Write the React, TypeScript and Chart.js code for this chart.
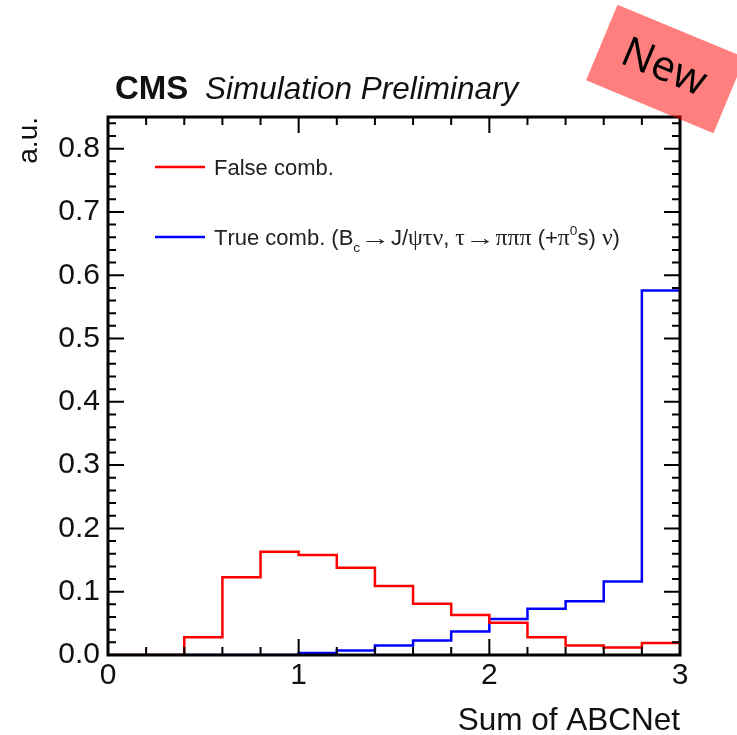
import { useEffect, useRef } from "react";
import { Chart, registerables } from "chart.js";

Chart.register(...registerables);

// Histogram binning (bin edges) and normalised contents per bin
const binEdges = [0, 0.2, 0.4, 0.6, 0.8, 1.0, 1.2, 1.4, 1.6, 1.8, 2.0, 2.2, 2.4, 2.6, 2.8, 3.0];
const falseComb = [0, 0, 0.028, 0.123, 0.163, 0.158, 0.138, 0.109, 0.081, 0.063, 0.051, 0.028, 0.015, 0.012, 0.019];
const trueComb = [0, 0, 0, 0, 0, 0.003, 0.007, 0.015, 0.023, 0.037, 0.057, 0.073, 0.085, 0.116, 0.576];

const xTickValues = [0, 1, 2, 3];
const yTickValues = [0, 0.1, 0.2, 0.3, 0.4, 0.5, 0.6, 0.7, 0.8];

const falseLabel = "False comb.";
// "_" marks a subscript, "^" a superscript (single following character)
const trueLabel = "True comb. (B_c→J/ψτν, τ→πππ (+π^0s) ν)";

const SANS = '"Liberation Sans", Arial, Helvetica, sans-serif';
const SERIF = '"Liberation Serif", "DejaVu Serif", serif';
const GREEK = /[α-ωΑ-Ω]/;

function toSteps(values: number[]) {
  const pts = values.map((v, i) => ({ x: binEdges[i], y: v }));
  pts.push({ x: binEdges[values.length], y: values[values.length - 1] });
  return pts;
}

function drawRichText(ctx: CanvasRenderingContext2D, text: string, x0: number, y: number, size: number) {
  let x = x0;
  ctx.textBaseline = "alphabetic";
  ctx.textAlign = "left";
  for (let i = 0; i < text.length; i++) {
    let ch = text[i];
    let dy = 0;
    let sz = size;
    if (ch === "_" || ch === "^") {
      dy = ch === "_" ? size * 0.3 : -size * 0.45;
      sz = size * 0.62;
      ch = text[++i];
    }
    const greek = GREEK.test(ch);
    const arrow = ch === "→";
    if (greek) sz = size * 1.08;
    ctx.font = `${sz}px ${greek ? SERIF : SANS}`;
    if (arrow) {
      // long ROOT-style arrow
      x += 0.5;
      ctx.save();
      ctx.translate(x, y + dy);
      ctx.scale(1.35, 1);
      ctx.fillText(ch, 0, 0);
      ctx.restore();
      x += ctx.measureText(ch).width * 1.35 + 0.5;
    } else {
      ctx.fillText(ch, x, y + dy);
      x += ctx.measureText(ch).width;
    }
  }
}

const rootStyle = {
  id: "rootStyle",
  afterDatasetsDraw(chart: any) {
    const { ctx, chartArea, scales } = chart;
    const { left, right, top, bottom } = chartArea;
    const xs = scales.x;
    const ys = scales.y;
    ctx.save();
    ctx.strokeStyle = "#000";
    ctx.lineWidth = 2;
    ctx.beginPath();
    // x ticks (minor every 0.2, major at integers), on bottom and top
    for (const v of binEdges) {
      const px = xs.getPixelForValue(v);
      const len = xTickValues.includes(v) ? 16 : 8;
      ctx.moveTo(px, bottom);
      ctx.lineTo(px, bottom - len);
      ctx.moveTo(px, top);
      ctx.lineTo(px, top + len);
    }
    // y ticks (minor every 0.02, major every 0.1), on left and right
    for (let k = 0; k <= 42; k++) {
      const v = k * 0.02;
      const py = ys.getPixelForValue(v);
      const len = k % 5 === 0 ? 16 : 8;
      ctx.moveTo(left, py);
      ctx.lineTo(left + len, py);
      ctx.moveTo(right, py);
      ctx.lineTo(right - len, py);
    }
    ctx.stroke();
    ctx.lineWidth = 3;
    ctx.strokeRect(left, top, right - left, bottom - top);
    ctx.restore();
  },
  afterDraw(chart: any) {
    const { ctx } = chart;
    const ds = chart.data.datasets;
    ctx.save();
    // Experiment label
    ctx.fillStyle = "#111";
    ctx.textBaseline = "alphabetic";
    ctx.textAlign = "left";
    ctx.font = `bold 33px ${SANS}`;
    ctx.fillText("CMS", 115, 99);
    ctx.font = `italic 31.5px ${SANS}`;
    ctx.fillText("Simulation Preliminary", 205, 99);

    // Legend
    const rows = [
      { y: 167, color: ds[0].borderColor, text: ds[0].label },
      { y: 237, color: ds[1].borderColor, text: ds[1].label },
    ];
    for (const r of rows) {
      ctx.strokeStyle = r.color;
      ctx.lineWidth = 2.5;
      ctx.beginPath();
      ctx.moveTo(155, r.y);
      ctx.lineTo(205, r.y);
      ctx.stroke();
      ctx.fillStyle = "#222";
      drawRichText(ctx, r.text, 214, r.y + 8, 22);
    }

    // "New" badge
    ctx.translate(665.5, 69);
    ctx.rotate((22.6 * Math.PI) / 180);
    ctx.fillStyle = "rgba(255, 0, 0, 0.5)";
    ctx.fillRect(-69, -41, 138, 82);
    ctx.fillStyle = "#000";
    ctx.font = `42px "Open Sans", "Noto Sans", sans-serif`;
    ctx.textAlign = "center";
    ctx.textBaseline = "middle";
    ctx.fillText("New", -2, 0);
    ctx.restore();
  },
};

export default function App() {
  const canvasRef = useRef<HTMLCanvasElement | null>(null);

  useEffect(() => {
    document.body.style.margin = "0";
    const canvas = canvasRef.current;
    if (!canvas) return;
    const chart = new Chart(canvas, {
      type: "line",
      data: {
        datasets: [
          {
            label: falseLabel,
            data: toSteps(falseComb),
            borderColor: "#ff0000",
            borderWidth: 2.5,
            stepped: true,
            pointRadius: 0,
            fill: false,
          },
          {
            label: trueLabel,
            data: toSteps(trueComb),
            borderColor: "#0000ff",
            borderWidth: 2.5,
            stepped: true,
            pointRadius: 0,
            fill: false,
          },
        ],
      },
      options: {
        responsive: true,
        maintainAspectRatio: false,
        animation: false,
        events: [],
        layout: { padding: { top: 117, right: 57, left: 0, bottom: 0 }, autoPadding: false },
        plugins: {
          legend: { display: false },
          tooltip: { enabled: false },
          title: { display: false },
        },
        scales: {
          x: {
            type: "linear",
            min: 0,
            max: 3,
            grid: { display: false, drawTicks: false, tickLength: 0 },
            border: { display: false },
            afterBuildTicks: (s: any) => {
              s.ticks = xTickValues.map((v) => ({ value: v }));
            },
            ticks: {
              color: "#111",
              font: { family: SANS, size: 30 },
              padding: 3,
              maxRotation: 0,
              autoSkip: false,
              callback: (v: any) => String(v),
            },
            title: {
              display: true,
              text: "Sum of ABCNet",
              align: "end",
              color: "#111",
              font: { family: SANS, size: 31.5, lineHeight: 0.9 },
              padding: { top: 0, bottom: 0 },
            },
            afterFit: (s: any) => {
              s.height = 80;
            },
          },
          y: {
            type: "linear",
            min: 0,
            max: 0.85,
            grid: { display: false, drawTicks: false, tickLength: 0 },
            border: { display: false },
            afterBuildTicks: (s: any) => {
              s.ticks = yTickValues.map((v) => ({ value: v }));
            },
            ticks: {
              color: "#111",
              font: { family: SANS, size: 30 },
              padding: 8,
              autoSkip: false,
              callback: (v: any) => Number(v).toFixed(1),
            },
            title: {
              display: true,
              text: "a.u.",
              align: "end",
              color: "#111",
              font: { family: SANS, size: 28 },
              padding: { top: 12, bottom: 0 },
            },
            afterFit: (s: any) => {
              s.width = 108;
            },
          },
        },
      },
      plugins: [rootStyle],
    });
    return () => chart.destroy();
  }, []);

  return (
    <div style={{ position: "fixed", left: 0, top: 0, width: 737, height: 735, background: "#fff" }}>
      <canvas ref={canvasRef} />
    </div>
  );
}
